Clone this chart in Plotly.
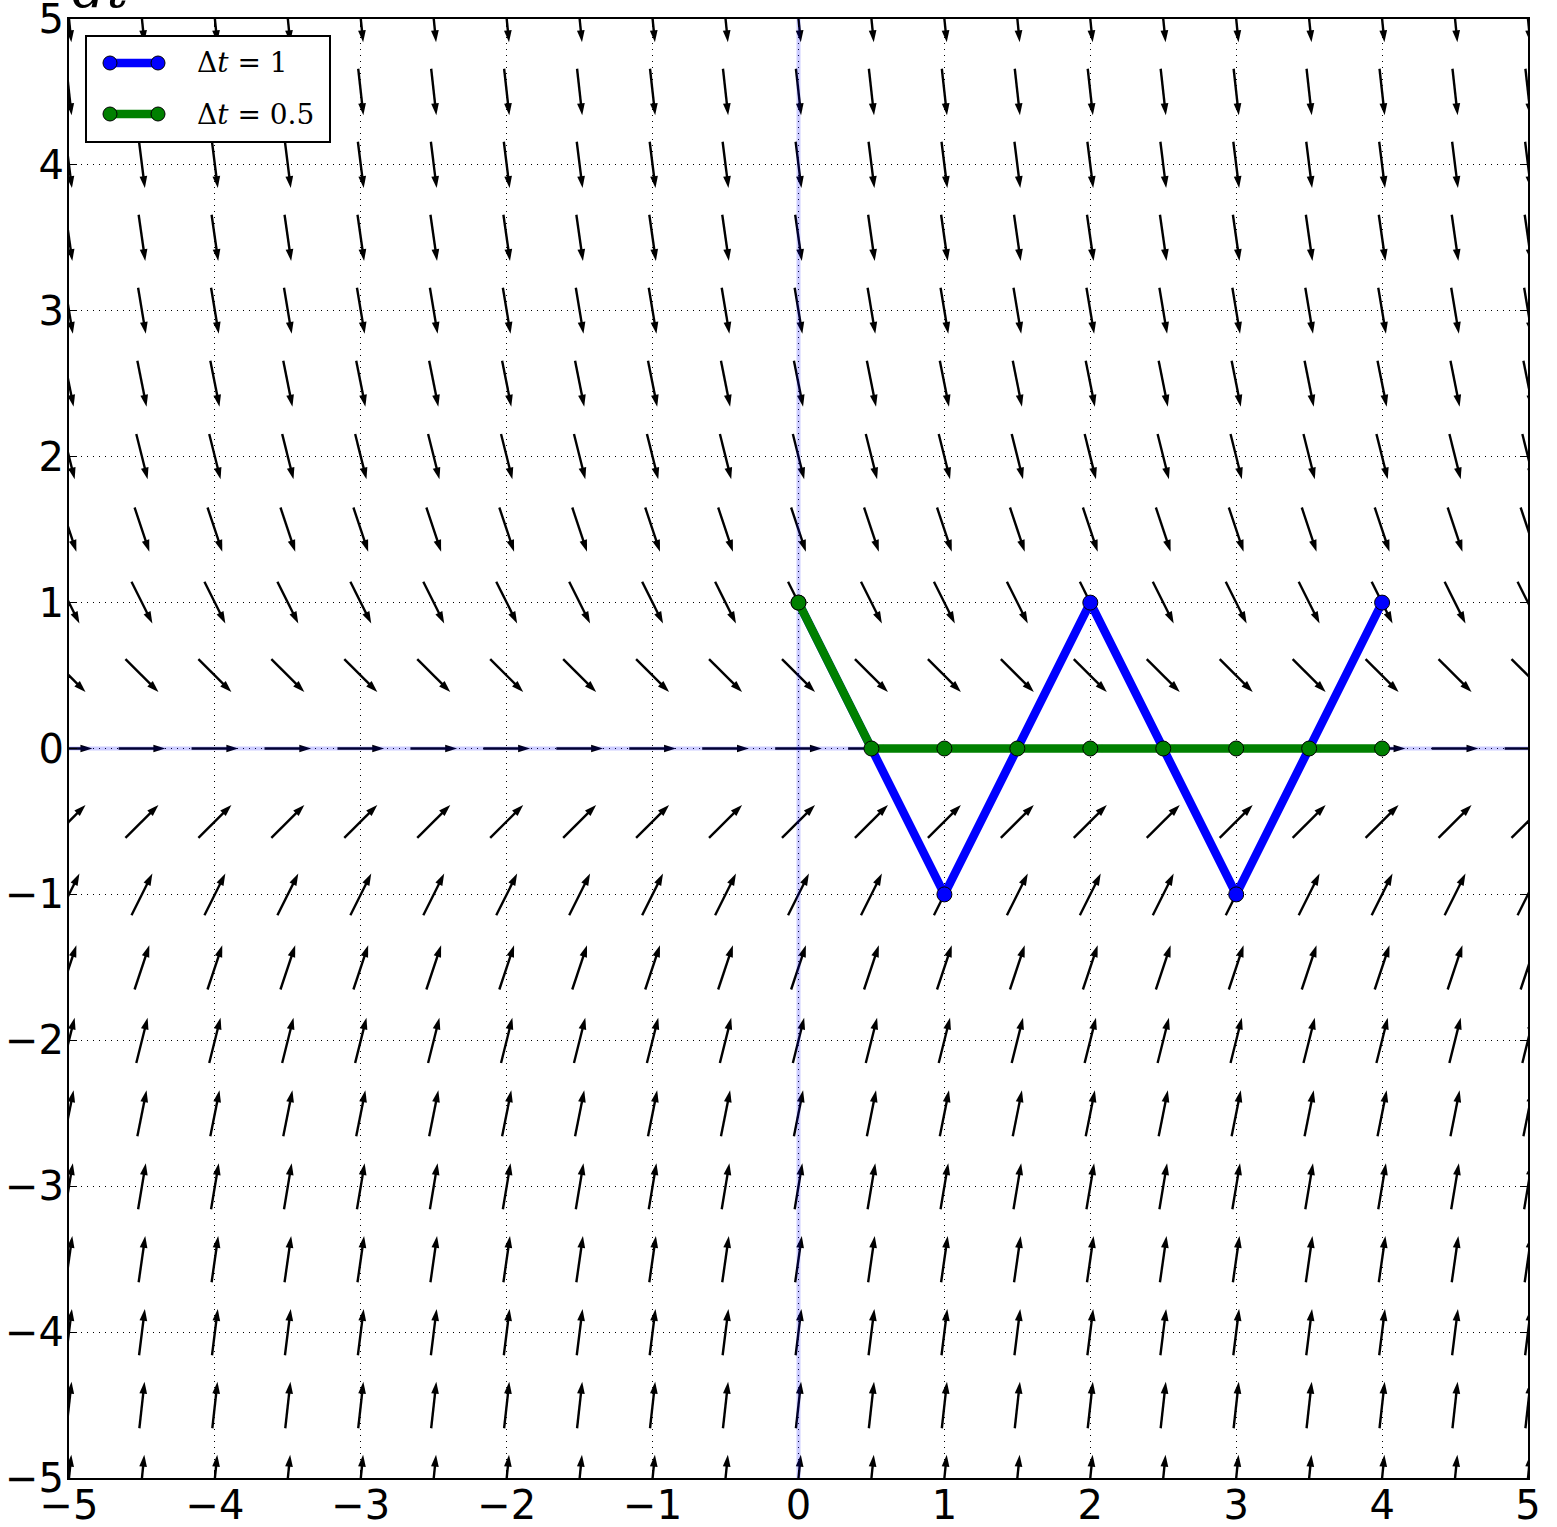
import math
import plotly.graph_objects as go

# ---------------- data ----------------
# direction field grid (t along x, y along y) and the slope dy/dt read on each row
x_grid = [-5.0, -4.5, -4.0, -3.5, -3.0, -2.5, -2.0, -1.5, -1.0, -0.5, 0.0,
          0.5, 1.0, 1.5, 2.0, 2.5, 3.0, 3.5, 4.0, 4.5, 5.0]
y_grid = [5.0, 4.5, 4.0, 3.5, 3.0, 2.5, 2.0, 1.5, 1.0, 0.5, 0.0,
          -0.5, -1.0, -1.5, -2.0, -2.5, -3.0, -3.5, -4.0, -4.5, -5.0]
slope_by_row = [-10, -9, -8, -7, -6, -5, -4, -3, -2, -1, 0,
                1, 2, 3, 4, 5, 6, 7, 8, 9, 10]

# Euler solutions
t_dt1 = [0, 1, 2, 3, 4]
y_dt1 = [1, -1, 1, -1, 1]
t_dt05 = [0, 0.5, 1, 1.5, 2, 2.5, 3, 3.5, 4]
y_dt05 = [1, 0, 0, 0, 0, 0, 0, 0, 0]

series_names = ["Δ<i>t</i> = 1", "Δ<i>t</i> = 0.5"]
series_colors = ["#0000ff", "#008000"]

tick_vals = [-5, -4, -3, -2, -1, 0, 1, 2, 3, 4, 5]
tick_text = ["−5", "−4", "−3", "−2", "−1", "0", "1", "2", "3", "4", "5"]

# ---------------- style ----------------
W, H = 1557, 1527
# plot area wanted on screen: x 69..1528, y 19..1478
ML, MT = 69, 19
MR, MB = W - 1528, H - 1478
PW, PH = W - ML - MR, H - MT - MB
ARROW_LEN = 0.32
HEAD_BACK = 0.05

# ---------------- direction field ----------------
shaft_x, shaft_y = [], []
head_x, head_y, head_ang = [], [], []
for yv, s in zip(y_grid, slope_by_row):
    n = math.hypot(1.0, s)
    ux, uy = 1.0 / n, s / n
    for xv in x_grid:
        tx, ty = xv - ARROW_LEN / 2 * ux, yv - ARROW_LEN / 2 * uy
        hx, hy = xv + ARROW_LEN / 2 * ux, yv + ARROW_LEN / 2 * uy
        shaft_x += [tx, hx - HEAD_BACK * ux, None]
        shaft_y += [ty, hy - HEAD_BACK * uy, None]
        head_x.append(hx)
        head_y.append(hy)
        head_ang.append(math.degrees(math.atan2(ux, uy)))

fig = go.Figure()
fig.add_trace(go.Scatter(x=shaft_x, y=shaft_y, mode="lines",
                         line=dict(color="black", width=2.4),
                         hoverinfo="skip", showlegend=False))
fig.add_trace(go.Scatter(x=head_x, y=head_y, mode="markers",
                         marker=dict(symbol="arrow", size=12.5, angle=head_ang,
                                     color="black", line=dict(width=0)),
                         hoverinfo="skip", showlegend=False))

# light blue axis lines (axhline / axvline)
fig.add_trace(go.Scatter(x=[tick_vals[0], tick_vals[-1]], y=[0, 0], mode="lines",
                         line=dict(color="rgba(0,0,255,0.2)", width=4),
                         hoverinfo="skip", showlegend=False))
fig.add_trace(go.Scatter(x=[0, 0], y=[tick_vals[0], tick_vals[-1]], mode="lines",
                         line=dict(color="rgba(0,0,255,0.2)", width=4),
                         hoverinfo="skip", showlegend=False))

# Euler solutions
for tx, yy, name, col in [(t_dt1, y_dt1, series_names[0], series_colors[0]),
                          (t_dt05, y_dt05, series_names[1], series_colors[1])]:
    fig.add_trace(go.Scatter(x=tx, y=yy, mode="lines+markers", name=name,
                             line=dict(color=col, width=8.5),
                             marker=dict(size=15, color=col,
                                         line=dict(color="black", width=1)),
                             showlegend=False))

# ---------------- axes ----------------
axis_common = dict(
    range=[-5, 5], tickvals=tick_vals, ticktext=tick_text,
    showgrid=True, gridcolor="black", gridwidth=1, griddash="1px,5px",
    zeroline=False, showline=True, linecolor="black", linewidth=2,
    mirror="ticks", ticks="inside", ticklen=8, tickwidth=1, tickcolor="black",
    tickfont=dict(family="DejaVu Sans", size=40, color="black"),
    fixedrange=True, automargin=False, ticklabeloverflow="allow",
)
fig.update_xaxes(**axis_common, ticklabelstandoff=-9)
fig.update_yaxes(**axis_common, ticklabelstandoff=-5)


# ---------------- custom legend (matplotlib style) ----------------
def px(xs):
    return (xs - ML) / PW


def py(ys):
    return (H - MB - ys) / PH


shapes = [dict(type="rect", xref="paper", yref="paper",
               x0=px(86), x1=px(330), y0=py(142), y1=py(36),
               line=dict(color="black", width=2), fillcolor="white", layer="above")]
annotations = []
for i, (name, col) in enumerate(zip(series_names, series_colors)):
    yc = 63 + i * 51
    shapes.append(dict(type="line", xref="paper", yref="paper",
                       x0=px(110), x1=px(158), y0=py(yc), y1=py(yc),
                       line=dict(color=col, width=8.5), layer="above"))
    for xc in (110, 158):
        shapes.append(dict(type="circle", xref="paper", yref="paper",
                           x0=px(xc - 7), x1=px(xc + 7), y0=py(yc + 7), y1=py(yc - 7),
                           fillcolor=col, line=dict(color="black", width=1),
                           layer="above"))
    annotations.append(dict(xref="paper", yref="paper", x=px(195), y=py(yc),
                            xanchor="left", yanchor="middle", text=name,
                            showarrow=False,
                            font=dict(family="DejaVu Serif", size=28, color="black")))

# label at the very top, cut off by the page edge as in the original
annotations.append(dict(xref="paper", yref="paper", x=px(70), y=py(-12),
                        xanchor="left", yanchor="middle", text="<i>dt</i>",
                        showarrow=False,
                        font=dict(family="DejaVu Serif", size=54, color="black")))

fig.update_layout(
    width=W, height=H,
    margin=dict(l=ML, r=MR, t=MT, b=MB, pad=0, autoexpand=False),
    paper_bgcolor="white", plot_bgcolor="white",
    shapes=shapes, annotations=annotations,
    showlegend=False,
)

fig.write_html("out.html",
               config={"displayModeBar": False},
               post_script="document.body.style.margin='0';document.body.style.padding='0';")
